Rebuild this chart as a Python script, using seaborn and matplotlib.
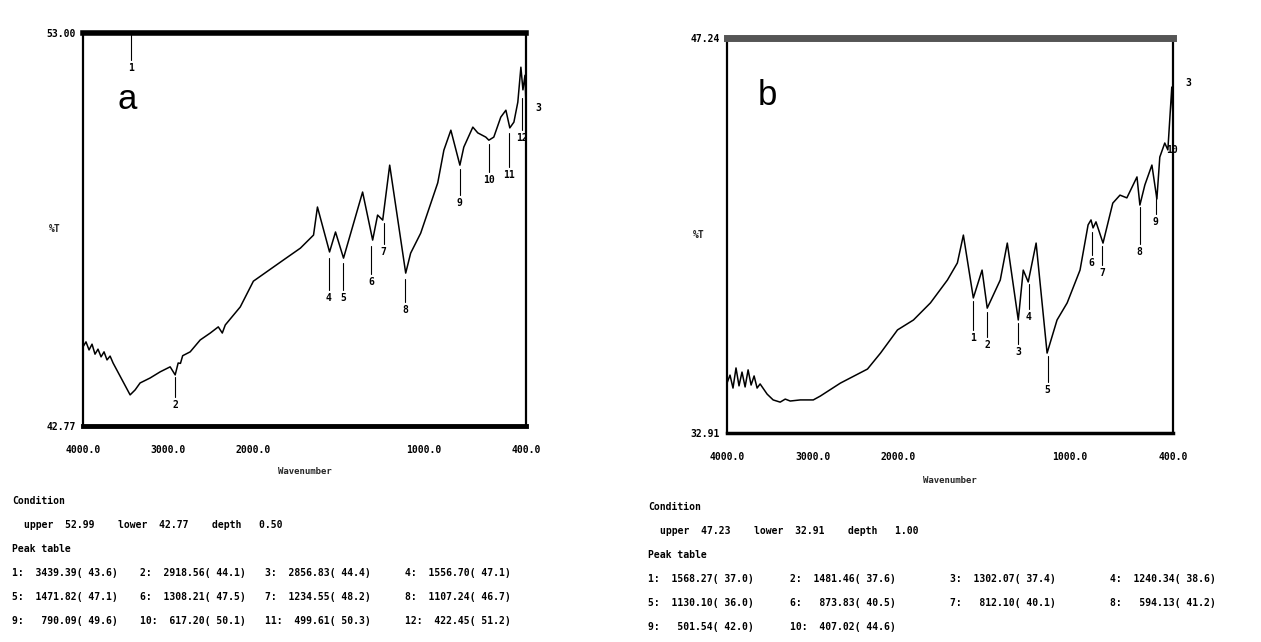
import numpy as np
import pandas as pd
import seaborn as sns
import matplotlib.pyplot as plt

# ---- spectrum a (wavenumber cm-1, %T) ----
wn_a = [4000, 3965, 3929, 3894, 3859, 3824, 3788, 3753, 3718, 3682, 3647, 3565,
        3447, 3388, 3330, 3212, 3094, 2977, 2918, 2883, 2856, 2830, 2742, 2624,
        2506, 2412, 2365, 2330, 2154, 2000, 1824, 1724, 1647, 1624, 1553, 1518,
        1471, 1359, 1300, 1271, 1241, 1200, 1106, 1077, 1018, 918, 882, 841,
        788, 765, 712, 683, 636, 618, 589, 548, 518, 495, 471, 448, 430, 418,
        406, 400]
t_a = [44.83, 44.96, 44.75, 44.90, 44.64, 44.77, 44.57, 44.70, 44.49, 44.59,
       44.41, 44.07, 43.58, 43.71, 43.89, 44.02, 44.18, 44.31, 44.10, 44.41,
       44.40, 44.60, 44.70, 45.01, 45.19, 45.35, 45.19, 45.40, 45.87, 46.54,
       47.09, 47.40, 47.74, 48.47, 47.30, 47.82, 47.14, 48.86, 47.61, 48.26,
       48.13, 49.56, 46.75, 47.27, 47.79, 49.10, 49.95, 50.47, 49.56, 50.03,
       50.55, 50.40, 50.29, 50.21, 50.29, 50.81, 50.99, 50.53, 50.68, 51.20,
       52.11, 51.52, 51.90, 51.10]

# ---- spectrum b ----
wn_b = [4000, 3965, 3930, 3895, 3860, 3825, 3789, 3754, 3719, 3684, 3649, 3614,
        3532, 3462, 3380, 3321, 3263, 3146, 2994, 2912, 2678, 2362, 2210, 2012,
        1913, 1814, 1715, 1657, 1622, 1564, 1513, 1483, 1407, 1366, 1302, 1273,
        1244, 1198, 1134, 1076, 1017, 942, 895, 878, 866, 849, 808, 768, 751,
        709, 669, 610, 593, 564, 523, 494, 477, 448, 430, 407, 400]
t_b = [34.72, 35.01, 34.54, 35.27, 34.62, 35.12, 34.58, 35.20, 34.65, 34.98,
       34.54, 34.69, 34.32, 34.11, 34.03, 34.14, 34.07, 34.11, 34.11, 34.25,
       34.72, 35.23, 35.81, 36.65, 37.01, 37.63, 38.46, 39.08, 40.09, 37.81,
       38.82, 37.44, 38.46, 39.80, 37.01, 38.82, 38.39, 39.80, 35.81, 37.01,
       37.63, 38.82, 40.46, 40.64, 40.35, 40.57, 39.80, 40.82, 41.25, 41.54,
       41.44, 42.20, 41.18, 41.91, 42.63, 41.40, 42.92, 43.43, 43.18, 45.46,
       44.30]

# ---- peak markers: number, wavenumber, top of marker line, label level ----
mk_a_num = ['1', '2', '4', '5', '6', '7', '8', '9', '10', '11', '12']
mk_a_wn = [3439.39, 2918.56, 1556.70, 1471.82, 1308.21, 1234.55, 1107.24,
           790.09, 617.20, 499.61, 422.45]
mk_a_top = [53.00, 44.05, 47.15, 47.00, 47.45, 48.05, 46.60, 49.45, 50.10,
            50.40, 51.30]
mk_a_lab = [52.10, 43.32, 46.10, 46.10, 46.52, 47.30, 45.79, 48.57, 49.17,
            49.30, 50.27]

mk_b_num = ['1', '2', '3', '4', '5', '6', '7', '8', '9', '10']
mk_b_wn = [1568.27, 1481.46, 1302.07, 1240.34, 1130.10, 873.83, 812.10,
           594.13, 501.54, 407.02]
mk_b_top = [37.70, 37.30, 36.90, 38.30, 35.70, 40.20, 39.70, 41.10, 41.50, 43.10]
mk_b_lab = [36.36, 36.10, 35.85, 37.12, 34.47, 39.08, 38.71, 39.48, 40.56, 43.18]

xticks = [4000, 3000, 2000, 1000, 400]
xtick_labels = ['4000.0', '3000.0', '2000.0', '1000.0', '400.0']

lim_a = (42.77, 53.00)
lim_b = (32.91, 47.24)

cond_a = 'upper  52.99    lower  42.77    depth   0.50'
cond_b = 'upper  47.23    lower  32.91    depth   1.00'
table_a = [['1:  3439.39( 43.6)', '2:  2918.56( 44.1)', '3:  2856.83( 44.4)', '4:  1556.70( 47.1)'],
           ['5:  1471.82( 47.1)', '6:  1308.21( 47.5)', '7:  1234.55( 48.2)', '8:  1107.24( 46.7)'],
           ['9:   790.09( 49.6)', '10:  617.20( 50.1)', '11:  499.61( 50.3)', '12:  422.45( 51.2)']]
table_b = [['1:  1568.27( 37.0)', '2:  1481.46( 37.6)', '3:  1302.07( 37.4)', '4:  1240.34( 38.6)'],
           ['5:  1130.10( 36.0)', '6:   873.83( 40.5)', '7:   812.10( 40.1)', '8:   594.13( 41.2)'],
           ['9:   501.54( 42.0)', '10:  407.02( 44.6)']]

sns.set_style('white')
plt.rcParams['font.family'] = ['DejaVu Sans Mono', 'DejaVu Sans']
plt.rcParams['text.color'] = 'black'
MONO = 7


# the instrument prints 4000-2000 at half the scale of 2000-400
def fwd(w):
    w = np.asarray(w, dtype=float)
    return np.where(w < 2000, w - 400, 1600 + (w - 2000) * 0.5)


def inv(u):
    u = np.asarray(u, dtype=float)
    return np.where(u < 1600, u + 400, 2000 + (u - 1600) * 2)


W, H = 1261, 642
fig = plt.figure(figsize=(12.61, 6.42), dpi=100)


def px_axes(l, t, r, b):
    return fig.add_axes([l / W, 1 - b / H, (r - l) / W, (b - t) / H])


def draw_panel(ax, wn, t, lim, mk_num, mk_wn, mk_top, mk_lab, letter, letter_pos,
               three_pos, top_lw, bot_lw, top_col, xpad, xlpad):
    df = pd.DataFrame({'wn': wn, 't': t})
    sns.lineplot(data=df, x='wn', y='t', ax=ax, color='black', linewidth=1.1,
                 estimator=None, sort=False)
    ax.set_xscale('function', functions=(fwd, inv))
    ax.set_xlim(4000, 400)
    ax.set_ylim(*lim)
    span = lim[1] - lim[0]
    for n, w, top, lab in zip(mk_num, mk_wn, mk_top, mk_lab):
        if top - lab > 0.04 * span:
            ax.plot([w, w], [top, lab + 0.02 * span], color='black', lw=0.8)
        ax.text(w, lab, n, ha='center', va='center', fontsize=MONO,
                fontweight='bold', clip_on=False)
    ax.text(three_pos[0], three_pos[1], '3', ha='center', va='center',
            fontsize=MONO, fontweight='bold', clip_on=False)
    ax.text(letter_pos[0], letter_pos[1], letter, ha='center', va='center',
            fontsize=25, family=['Liberation Sans Narrow', 'Liberation Sans'])
    ax.set_xticks(xticks)
    ax.set_xticklabels(xtick_labels, fontweight='bold')
    ax.set_yticks([lim[0], lim[1]])
    ax.set_yticklabels(['%.2f' % lim[0], '%.2f' % lim[1]], fontweight='bold')
    ax.set_yticks(np.linspace(lim[0], lim[1], 6)[1:-1], minor=True)
    ax.tick_params(axis='both', which='both', direction='in', labelsize=MONO,
                   length=4, width=1, colors='black', pad=5)
    ax.tick_params(axis='x', pad=xpad)
    ax.set_xlabel('Wavenumber', fontsize=6.5, fontweight='bold', labelpad=xlpad)
    ax.set_ylabel('%T', rotation=0, fontsize=MONO, fontweight='bold', va='center')
    ax.yaxis.set_label_coords(-0.063, 0.5)
    for s in ['left', 'right']:
        ax.spines[s].set_linewidth(1.6)
        ax.spines[s].set_color('black')
    ax.spines['top'].set_linewidth(top_lw)
    ax.spines['top'].set_color(top_col)
    ax.spines['bottom'].set_linewidth(bot_lw)
    ax.spines['bottom'].set_color('black')


ax_a = px_axes(83, 33, 526, 426)
draw_panel(ax_a, wn_a, t_a, lim_a, mk_a_num, mk_a_wn, mk_a_top, mk_a_lab,
           'a', (3483, 51.26), (329, 51.05), 4.0, 3.5, 'black', 14, 8)

ax_b = px_axes(727, 38, 1173, 433)
draw_panel(ax_b, wn_b, t_b, lim_b, mk_b_num, mk_b_wn, mk_b_top, mk_b_lab,
           'b', (3532, 45.17), (313, 45.61), 5.0, 2.5, '#555555', 14, 10)


def put(x, y, s):
    fig.text(x / W, 1 - y / H, s, fontsize=MONO, fontweight='bold',
             ha='left', va='center')


def table(x0, y0, cols, cond, rows, step):
    put(x0, y0, 'Condition')
    put(x0 + 12, y0 + step, cond)
    put(x0, y0 + 2 * step, 'Peak table')
    for i, row in enumerate(rows):
        for j, s in enumerate(row):
            put(cols[j], y0 + (3 + i) * step, s)


table(12, 501, [12, 140, 265, 405], cond_a, table_a, 24)
table(648, 507, [648, 790, 950, 1110], cond_b, table_b, 24)

fig.savefig('out.png', dpi=100)
